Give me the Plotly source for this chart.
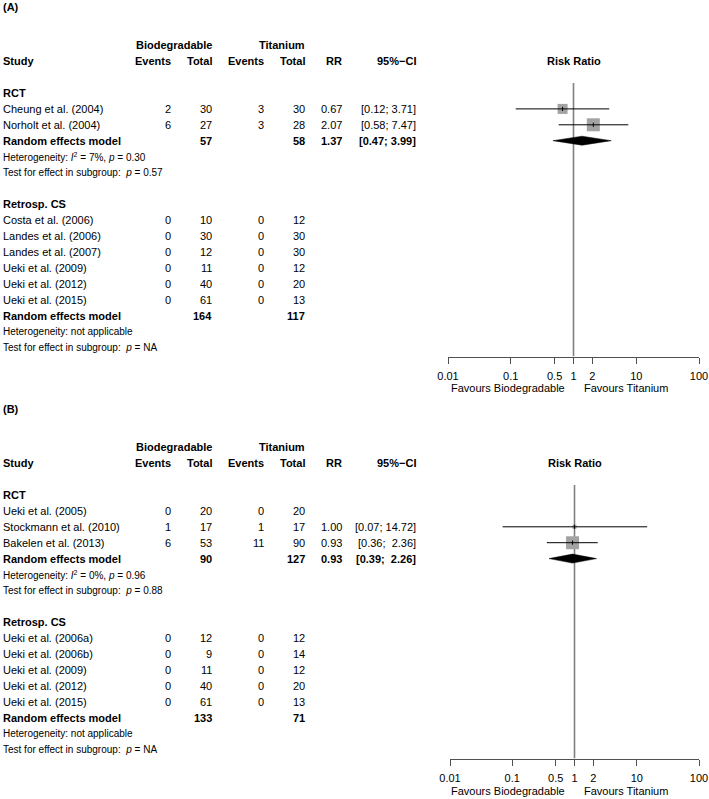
import plotly.graph_objects as go

W, H = 709, 799
FONT = "Liberation Sans, Arial, Helvetica, sans-serif"

# ---------------- Data: panel A ----------------
A_RCT_STUDY = ["Cheung et al. (2004)", "Norholt et al. (2004)"]
A_RCT_EV_BIO = [2, 6]
A_RCT_N_BIO = [30, 27]
A_RCT_EV_TI = [3, 3]
A_RCT_N_TI = [30, 28]
A_RCT_RR = [0.67, 2.07]
A_RCT_LO = [0.12, 0.58]
A_RCT_HI = [3.71, 7.47]
A_RCT_POOLED = [1.37, 0.47, 3.99]
A_RCT_TOTALS = [57, 58]
A_RCT_HET = ["7%", "0.30"]
A_RCT_TEST_P = "0.57"

A_CS_STUDY = ["Costa et al. (2006)", "Landes et al. (2006)", "Landes et al. (2007)",
              "Ueki et al. (2009)", "Ueki et al. (2012)", "Ueki et al. (2015)"]
A_CS_EV_BIO = [0, 0, 0, 0, 0, 0]
A_CS_N_BIO = [10, 30, 12, 11, 40, 61]
A_CS_EV_TI = [0, 0, 0, 0, 0, 0]
A_CS_N_TI = [12, 30, 30, 12, 20, 13]
A_CS_TOTALS = [164, 117]

# ---------------- Data: panel B ----------------
B_RCT_STUDY = ["Ueki et al. (2005)", "Stockmann et al. (2010)", "Bakelen et al. (2013)"]
B_RCT_EV_BIO = [0, 1, 6]
B_RCT_N_BIO = [20, 17, 53]
B_RCT_EV_TI = [0, 1, 11]
B_RCT_N_TI = [20, 17, 90]
B_RCT_RR = [None, 1.00, 0.93]
B_RCT_LO = [None, 0.07, 0.36]
B_RCT_HI = [None, 14.72, 2.36]
B_RCT_POOLED = [0.93, 0.39, 2.26]
B_RCT_TOTALS = [90, 127]
B_RCT_HET = ["0%", "0.96"]
B_RCT_TEST_P = "0.88"

B_CS_STUDY = ["Ueki et al. (2006a)", "Ueki et al. (2006b)", "Ueki et al. (2009)",
              "Ueki et al. (2012)", "Ueki et al. (2015)"]
B_CS_EV_BIO = [0, 0, 0, 0, 0]
B_CS_N_BIO = [12, 9, 11, 40, 61]
B_CS_EV_TI = [0, 0, 0, 0, 0]
B_CS_N_TI = [12, 14, 12, 20, 13]
B_CS_TOTALS = [133, 71]

TICK_VALS = [0.01, 0.1, 0.5, 1, 2, 10, 100]
TICK_TEXT = ["0.01", "0.1", "0.5", "1", "2", "10", "100"]

# ---------------- Styles / layout ----------------
A_SQUARE_SIZES = [10, 13]
B_SQUARE_SIZES = [0, 4, 13]
STEP = 15.9
COL_X = {"ev_bio": 172, "n_bio": 213, "ev_ti": 265, "n_ti": 306, "rr": 343, "ci": 417}
SQ_COLOR = "#a3a3a3"
REF_COLOR = "#808080"
AXIS_COLOR = "#505050"

fig = go.Figure()


def txt(x, y, s, anchor="left", size=11, bold=False):
    if bold:
        s = "<b>" + s + "</b>"
    fig.add_annotation(x=x / W, y=1 - y / H, xref="paper", yref="paper", text=s, showarrow=False,
                       xanchor=anchor, yanchor="middle", borderpad=0,
                       font=dict(size=size, color="black", family=FONT))


def fmt_ci(lo, hi, width):
    h = ("%.2f" % hi).rjust(width).replace(" ", "&nbsp;")
    return "[%.2f;&nbsp;%s]" % (lo, h)


def panel(label, y0, xref, yref, xdom, rct, cs, sizes):
    # y0 = pixel of first subgroup label row
    txt(2, y0 - 86, "(%s)" % label, bold=True)
    txt(COL_X["n_bio"], y0 - 48.5, "Biodegradable", "right", bold=True)
    txt(COL_X["n_ti"], y0 - 48.5, "Titanium", "right", bold=True)
    yh = y0 - 32
    txt(2, yh, "Study", bold=True)
    txt(COL_X["ev_bio"], yh, "Events", "right", bold=True)
    txt(COL_X["n_bio"], yh, "Total", "right", bold=True)
    txt(COL_X["ev_ti"], yh, "Events", "right", bold=True)
    txt(COL_X["n_ti"], yh, "Total", "right", bold=True)
    txt(COL_X["rr"], yh, "RR", "right", bold=True)
    txt(COL_X["ci"], yh, "95%\u2212CI", "right", bold=True)
    mid_px = (xdom[0] + xdom[1]) / 2
    txt(mid_px, yh, "Risk Ratio", "center", bold=True)

    his = [h for h in rct["hi"] if h is not None] + [rct["pooled"][2]]
    width = max(len("%.2f" % h) for h in his)

    idx = 0
    groups = [("RCT", rct), ("Retrosp. CS", cs)]
    row_y = []
    ypool = None
    for gname, g in groups:
        y = y0 + idx * STEP
        txt(2, y, gname, bold=True)
        idx += 1
        for i, s in enumerate(g["study"]):
            y = y0 + idx * STEP
            txt(2, y, s)
            txt(COL_X["ev_bio"], y, str(g["ev_bio"][i]), "right")
            txt(COL_X["n_bio"], y, str(g["n_bio"][i]), "right")
            txt(COL_X["ev_ti"], y, str(g["ev_ti"][i]), "right")
            txt(COL_X["n_ti"], y, str(g["n_ti"][i]), "right")
            if "rr" in g and g["rr"][i] is not None:
                txt(COL_X["rr"], y, "%.2f" % g["rr"][i], "right")
                txt(COL_X["ci"], y, fmt_ci(g["lo"][i], g["hi"][i], width), "right")
                row_y.append((i, y))
            idx += 1
        y = y0 + idx * STEP
        txt(2, y, "Random effects model", bold=True)
        txt(COL_X["n_bio"], y, str(g["totals"][0]), "right", bold=True)
        txt(COL_X["n_ti"], y, str(g["totals"][1]), "right", bold=True)
        if "pooled" in g:
            txt(COL_X["rr"], y, "%.2f" % g["pooled"][0], "right", bold=True)
            txt(COL_X["ci"], y, fmt_ci(g["pooled"][1], g["pooled"][2], width), "right", bold=True)
            ypool = y
        idx += 1
        y = y0 + idx * STEP
        if "het" in g:
            txt(2, y, "Heterogeneity: <i>I</i><sup>2</sup> = %s, <i>p</i> = %s" % tuple(g["het"]), size=10)
        else:
            txt(2, y, "Heterogeneity: not applicable", size=10)
        idx += 1
        y = y0 + idx * STEP
        txt(2, y, "Test for effect in subgroup:&nbsp; <i>p</i> = %s" % g.get("test", "NA"), size=10)
        idx += 2

    axis_y = y0 + 263.5
    common = dict(xaxis=xref, yaxis=yref, hoverinfo="skip", showlegend=False)
    # reference line at RR = 1
    fig.add_trace(go.Scatter(x=[1, 1], y=[yh + 22, axis_y], mode="lines",
                             line=dict(color=REF_COLOR, width=1.6), **common))
    # study squares and CIs
    for i, y in row_y:
        rr, lo, hi = rct["rr"][i], rct["lo"][i], rct["hi"][i]
        fig.add_trace(go.Scatter(x=[rr], y=[y], mode="markers",
                                 marker=dict(symbol="square", size=sizes[i], color=SQ_COLOR,
                                             line=dict(width=0)), **common))
        fig.add_trace(go.Scatter(x=[lo, hi], y=[y, y], mode="lines",
                                 line=dict(color="black", width=1), **common))
        fig.add_trace(go.Scatter(x=[rr], y=[y], mode="markers",
                                 marker=dict(symbol="line-ns", size=3, line=dict(color="black", width=1)),
                                 **common))
    est, lo, hi = rct["pooled"]
    fig.add_trace(go.Scatter(x=[lo, est, hi, est, lo], y=[ypool, ypool - 4.5, ypool, ypool + 4.5, ypool],
                             mode="lines", fill="toself", fillcolor="black",
                             line=dict(color="black", width=0.5), **common))
    # favours labels
    txt(566, axis_y + 32, "Favours Biodegradable", "right")
    txt(583, axis_y + 32, "Favours Titanium", "left")
    return axis_y


rctA = dict(study=A_RCT_STUDY, ev_bio=A_RCT_EV_BIO, n_bio=A_RCT_N_BIO, ev_ti=A_RCT_EV_TI,
            n_ti=A_RCT_N_TI, rr=A_RCT_RR, lo=A_RCT_LO, hi=A_RCT_HI, pooled=A_RCT_POOLED,
            totals=A_RCT_TOTALS, het=A_RCT_HET, test=A_RCT_TEST_P)
csA = dict(study=A_CS_STUDY, ev_bio=A_CS_EV_BIO, n_bio=A_CS_N_BIO, ev_ti=A_CS_EV_TI,
           n_ti=A_CS_N_TI, totals=A_CS_TOTALS)
rctB = dict(study=B_RCT_STUDY, ev_bio=B_RCT_EV_BIO, n_bio=B_RCT_N_BIO, ev_ti=B_RCT_EV_TI,
            n_ti=B_RCT_N_TI, rr=B_RCT_RR, lo=B_RCT_LO, hi=B_RCT_HI, pooled=B_RCT_POOLED,
            totals=B_RCT_TOTALS, het=B_RCT_HET, test=B_RCT_TEST_P)
csB = dict(study=B_CS_STUDY, ev_bio=B_CS_EV_BIO, n_bio=B_CS_N_BIO, ev_ti=B_CS_EV_TI,
           n_ti=B_CS_N_TI, totals=B_CS_TOTALS)

XDOM_A = (448, 699)
XDOM_B = (450, 699)
Y0_A, Y0_B = 93, 495
TOP_A, TOP_B = 0, 380
axA = panel("A", Y0_A, "x", "y", XDOM_A, rctA, csA, A_SQUARE_SIZES)
axB = panel("B", Y0_B, "x2", "y2", XDOM_B, rctB, csB, B_SQUARE_SIZES)


def xaxis_cfg(dom, anchor):
    return dict(type="log", range=[-2, 2], domain=[dom[0] / W, dom[1] / W], anchor=anchor,
                showline=True, linecolor=AXIS_COLOR, linewidth=1.2,
                ticks="outside", ticklen=6, tickcolor=AXIS_COLOR, tickwidth=1.2,
                tickmode="array", tickvals=TICK_VALS, ticktext=TICK_TEXT,
                showgrid=False, zeroline=False, automargin=False,
                tickfont=dict(size=11, color="black", family=FONT), ticklabelstandoff=3,
                fixedrange=True)


def yaxis_cfg(top, axis_y):
    return dict(range=[axis_y, top], domain=[1 - axis_y / H, 1 - top / H], visible=False,
                showgrid=False, zeroline=False, automargin=False, fixedrange=True)


fig.update_layout(
    width=W, height=H, autosize=False,
    margin=dict(l=0, r=0, t=0, b=0, pad=0),
    paper_bgcolor="white", plot_bgcolor="white",
    showlegend=False,
    xaxis=xaxis_cfg(XDOM_A, "y"),
    xaxis2=xaxis_cfg(XDOM_B, "y2"),
    yaxis=yaxis_cfg(TOP_A, axA),
    yaxis2=yaxis_cfg(TOP_B, axB),
    font=dict(family=FONT, color="black"),
)

fig.write_html("out.html", config={"displayModeBar": False},
               post_script="document.body.style.margin='0';document.body.style.overflow='hidden';")
